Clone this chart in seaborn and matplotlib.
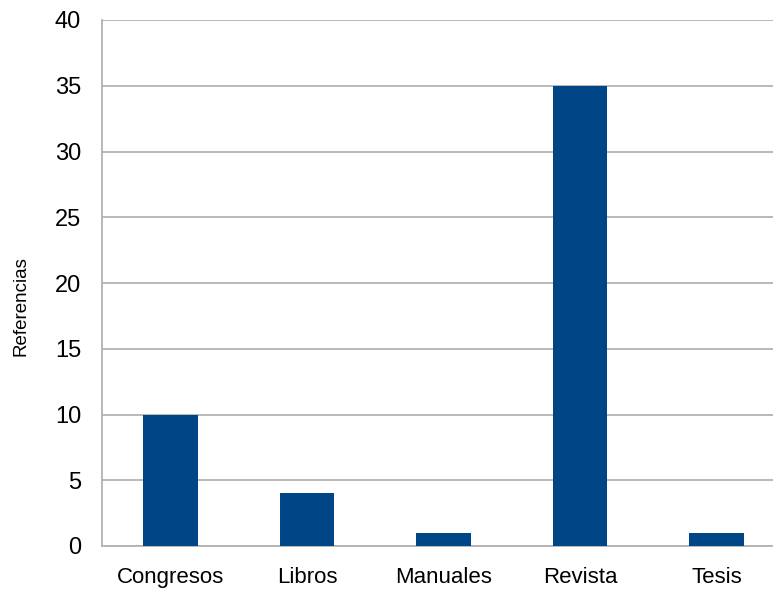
import matplotlib
matplotlib.use('Agg')
import matplotlib.pyplot as plt
import seaborn as sns
import pandas as pd

# Data
categories = ['Congresos', 'Libros', 'Manuales', 'Revista', 'Tesis']
referencias = [10, 4, 1, 35, 1]

df = pd.DataFrame({'Tipo': categories, 'Referencias': referencias})

sns.set_style('white')
plt.rcParams['font.family'] = ['Liberation Sans', 'DejaVu Sans']

fig = plt.figure(figsize=(7.73, 5.90), dpi=100)
# axes extends a bit past the right edge of the figure, like the reference
ax = fig.add_axes([102 / 773, 44 / 590, 683 / 773, 526 / 590])

sns.barplot(data=df, x='Tipo', y='Referencias', color='#004586', width=0.4,
            saturation=1, linewidth=0, ax=ax, zorder=3)

ax.set_ylim(0, 40)
ax.set_yticks(range(0, 41, 5))
ax.yaxis.grid(True, color='#b3b3b3', linewidth=1.3, zorder=0)
ax.set_axisbelow(True)

for side in ['top', 'right']:
    ax.spines[side].set_visible(False)
for side in ['left', 'bottom']:
    ax.spines[side].set_color('#b3b3b3')
    ax.spines[side].set_linewidth(1.3)

ax.tick_params(axis='y', length=0, labelsize=17, colors='black', pad=15)
ax.tick_params(axis='x', length=0, labelsize=16, colors='black', pad=15)
ax.set_xlabel('')
ax.set_ylabel('Referencias', fontsize=13.5, color='black')
ax.yaxis.set_label_coords(-0.106, 0.456)

fig.savefig('out.png', dpi=100)
